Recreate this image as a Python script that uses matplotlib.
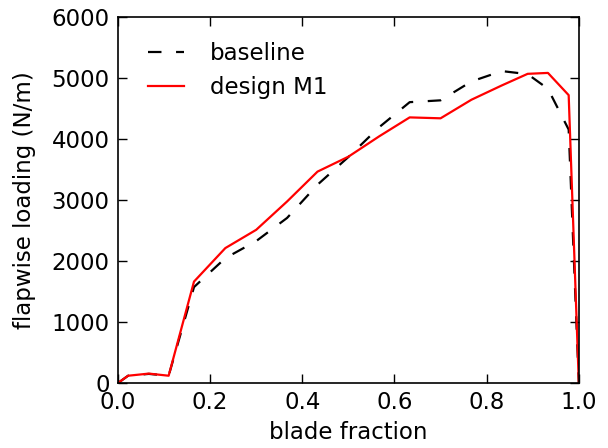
import matplotlib
matplotlib.use("Agg")
import matplotlib.pyplot as plt

# spanwise stations and flapwise loads
blade_frac = [0.0, 0.022, 0.067, 0.11, 0.165, 0.233, 0.30, 0.367, 0.433, 0.50,
              0.567, 0.633, 0.70, 0.767, 0.833, 0.889, 0.933, 0.978, 1.0]
baseline = [0, 120, 150, 120, 1575, 2050, 2330, 2710, 3255, 3710,
            4200, 4610, 4640, 4950, 5120, 5070, 4830, 4160, 0]
design_m1 = [0, 120, 155, 120, 1665, 2215, 2515, 2980, 3470, 3715,
             4050, 4360, 4345, 4650, 4885, 5075, 5090, 4725, 0]

plt.rcParams['lines.scale_dashes'] = False
plt.rcParams['xtick.direction'] = 'in'
plt.rcParams['ytick.direction'] = 'in'
plt.rcParams['xtick.top'] = True
plt.rcParams['ytick.right'] = True

fig = plt.figure(figsize=(6.08, 4.48), dpi=100)
ax = fig.add_axes([0.194, 0.145, 0.758, 0.816])

ax.plot(blade_frac, baseline, color='k', lw=1.6, linestyle='--', dashes=(9.7, 10.5),
        label='baseline')
ax.plot(blade_frac, design_m1, color='red', lw=1.6, label='design M1')

ax.set_xlim(0, 1)
ax.set_ylim(0, 6000)
ax.set_xticks([0, 0.2, 0.4, 0.6, 0.8, 1.0])
ax.set_xticklabels(['0.0', '0.2', '0.4', '0.6', '0.8', '1.0'])
ax.tick_params(labelsize=16.5, length=6.7, width=1.0, pad=6)
for s in ax.spines.values():
    s.set_linewidth(1.2)

ax.set_xlabel('blade fraction', fontsize=16.5, labelpad=5)
ax.set_ylabel('flapwise loading (N/m)', fontsize=16.5, labelpad=11)

ax.legend(loc='upper left', bbox_to_anchor=(0.015, 0.995), frameon=False,
          fontsize=16.5, handlelength=1.6, handletextpad=1.1, labelspacing=0.48,
          borderaxespad=0.6)

fig.savefig('out.png', dpi=100, facecolor='white')
